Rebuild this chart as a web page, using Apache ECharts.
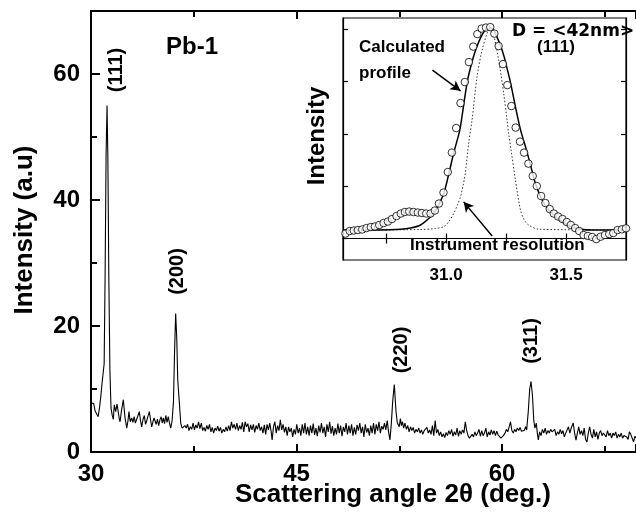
<!DOCTYPE html>
<html>
<head>
<meta charset="utf-8">
<script src="https://cdn.jsdelivr.net/npm/echarts@6/dist/echarts.min.js"></script>
<style>html,body{margin:0;padding:0;background:#fff}#c{width:636px;height:518px}</style>
</head>
<body>
<div id="c"></div>
<script>
// ---------- main XRD pattern ----------
const mainAngle = [30.00,30.10,30.20,30.30,30.40,30.52,30.62,30.72,30.80,30.88,30.96,31.03,31.10,31.17,31.23,31.30,31.38,31.46,31.55,31.63,31.70,31.80,31.90,31.99,32.07,32.12,32.22,32.36,32.48,32.61,32.70,32.77,32.86,32.97,33.06,33.15,33.24,33.34,33.43,33.53,33.61,33.70,33.80,33.89,33.98,34.07,34.16,34.26,34.34,34.43,34.52,34.60,34.67,34.76,34.85,34.94,35.03,35.12,35.20,35.28,35.37,35.46,35.55,35.64,35.73,35.82,35.92,36.02,36.10,36.18,36.26,36.33,36.38,36.45,36.55,36.65,36.75,36.85,36.95,37.05,37.15,37.25,37.35,37.45,37.55,37.65,37.75,37.85,37.95,38.05,38.15,38.25,38.35,38.45,38.55,38.65,38.75,38.85,38.95,39.05,39.15,39.25,39.35,39.45,39.55,39.65,39.75,39.85,39.95,40.05,40.15,40.25,40.35,40.45,40.55,40.65,40.75,40.85,40.95,41.05,41.15,41.25,41.35,41.45,41.55,41.65,41.75,41.85,41.95,42.05,42.15,42.25,42.35,42.45,42.55,42.65,42.75,42.85,42.95,43.05,43.15,43.22,43.32,43.42,43.52,43.62,43.72,43.82,43.92,44.02,44.12,44.22,44.32,44.42,44.52,44.62,44.72,44.82,44.92,45.02,45.12,45.22,45.32,45.42,45.52,45.62,45.72,45.82,45.92,46.02,46.12,46.22,46.32,46.42,46.52,46.62,46.72,46.82,46.92,47.02,47.12,47.22,47.32,47.42,47.52,47.62,47.72,47.82,47.92,48.02,48.12,48.22,48.32,48.42,48.52,48.62,48.72,48.82,48.92,49.02,49.12,49.22,49.32,49.42,49.52,49.62,49.72,49.82,49.92,50.02,50.12,50.22,50.32,50.42,50.52,50.62,50.72,50.82,50.92,51.02,51.12,51.22,51.32,51.42,51.52,51.62,51.72,51.82,51.92,52.02,52.14,52.26,52.36,52.43,52.50,52.58,52.66,52.74,52.82,52.92,53.02,53.12,53.22,53.32,53.42,53.52,53.62,53.72,53.82,53.92,54.02,54.12,54.22,54.32,54.42,54.52,54.62,54.72,54.82,54.92,55.02,55.12,55.22,55.32,55.42,55.52,55.62,55.72,55.82,55.92,56.02,56.12,56.22,56.32,56.42,56.52,56.62,56.72,56.82,56.92,57.02,57.12,57.22,57.32,57.42,57.52,57.62,57.72,57.82,57.92,58.02,58.12,58.22,58.32,58.42,58.52,58.62,58.72,58.82,58.92,59.02,59.12,59.22,59.32,59.42,59.52,59.62,59.72,59.82,59.92,60.00,60.10,60.22,60.32,60.42,60.52,60.62,60.72,60.82,60.92,61.02,61.12,61.22,61.32,61.42,61.52,61.62,61.72,61.80,61.92,62.02,62.12,62.22,62.32,62.40,62.50,62.58,62.65,62.75,62.85,62.95,63.05,63.15,63.25,63.35,63.45,63.55,63.65,63.75,63.85,63.95,64.05,64.15,64.25,64.35,64.45,64.55,64.65,64.75,64.85,64.95,65.05,65.20,65.30,65.40,65.50,65.60,65.70,65.80,65.90,66.00,66.10,66.20,66.30,66.40,66.50,66.60,66.70,66.80,66.90,67.00,67.10,67.20,67.30,67.40,67.50,67.60,67.70,67.80,67.90,68.00,68.10,68.20,68.30,68.40,68.50,68.60,68.70,68.80,68.90,69.00,69.10,69.20,69.30,69.40,69.50,69.60,69.70,69.80];
const mainIntensity = [7.8,7.5,7.7,6.5,6.1,5.6,7.0,8.9,10.8,10.6,14.0,28.0,47.0,55.0,47.0,28.0,13.0,7.0,5.8,5.2,7.5,6.4,7.6,7.8,5.2,4.8,6.5,8.3,5.5,3.8,5.0,6.4,4.8,5.4,4.7,5.6,4.6,4.8,5.8,6.4,5.0,4.0,5.2,5.8,4.4,5.0,5.7,6.4,5.2,4.0,4.8,5.4,5.6,4.4,5.2,4.2,5.1,5.6,4.6,5.4,4.5,5.8,4.7,5.6,4.6,3.8,5.0,8.0,16.0,22.0,18.0,11.5,9.9,7.8,4.6,3.8,3.5,4.2,3.8,4.4,3.4,4.0,3.6,4.6,3.5,4.3,3.8,4.8,3.7,4.6,3.4,3.9,3.3,4.2,3.6,4.4,3.2,3.9,3.0,3.8,3.4,4.1,3.3,3.9,3.0,3.6,3.2,4.0,3.3,4.2,3.4,4.8,3.8,4.4,3.6,4.6,3.4,4.2,3.6,4.7,3.2,4.8,4.0,4.5,3.2,4.3,3.5,4.4,3.1,4.2,3.6,4.6,3.4,4.0,3.0,4.3,2.8,4.4,3.5,4.6,3.2,1.9,4.0,4.8,3.0,4.2,3.4,5.1,3.5,4.4,3.1,4.0,2.6,4.0,3.2,3.8,2.4,3.6,2.8,4.4,3.0,3.8,2.6,4.4,3.0,4.6,2.8,4.0,2.6,4.2,3.0,4.5,2.7,3.8,2.5,4.2,3.1,4.6,3.0,4.0,2.4,4.4,3.2,4.8,2.9,4.1,2.6,3.8,2.8,4.5,3.0,4.2,2.5,4.0,3.2,4.6,2.8,4.2,3.0,4.4,2.6,3.9,2.8,4.3,3.4,4.6,3.0,4.0,2.4,4.4,3.1,3.8,2.6,4.2,3.0,4.6,2.8,4.4,3.4,4.8,3.0,4.1,3.6,4.6,3.5,5.0,3.2,1.9,4.5,8.0,10.7,6.5,4.6,4.8,4.0,5.3,4.2,4.8,3.8,4.6,3.6,4.2,3.2,4.0,3.4,3.9,3.0,3.6,3.2,3.8,3.0,3.5,2.8,3.4,3.1,3.9,3.0,3.5,2.8,4.2,2.6,5.0,3.0,3.6,2.6,3.2,2.4,2.9,2.3,3.1,2.6,3.4,2.8,3.6,2.5,3.2,2.7,3.8,2.5,3.4,2.8,3.5,3.0,4.8,3.4,2.6,2.2,1.9,2.8,2.4,3.2,2.6,3.0,3.6,2.5,3.4,2.6,3.0,3.8,2.4,3.2,2.7,3.5,2.8,3.4,2.6,3.3,2.7,3.0,2.2,1.9,2.6,3.0,3.6,3.2,4.0,4.8,3.4,3.0,3.6,3.2,3.8,3.4,3.9,3.3,3.6,3.4,4.0,3.5,6.5,10.0,11.2,9.0,5.0,3.8,4.6,3.0,1.9,3.2,2.6,3.6,3.0,3.8,2.8,3.4,3.0,3.6,3.2,3.0,3.6,2.6,3.2,2.8,3.6,2.9,3.4,2.4,3.0,3.2,4.0,3.0,3.8,4.6,3.0,1.9,3.0,4.0,2.8,3.4,2.6,3.8,2.0,1.6,3.0,4.0,2.8,2.2,3.6,2.4,3.2,2.0,3.0,3.4,2.6,3.0,3.2,2.4,3.4,2.6,3.0,2.2,3.0,2.6,3.2,2.2,2.8,2.4,3.0,2.2,2.6,2.8,2.4,2.0,3.2,2.8,2.2,1.6,2.5,2.2];

// ---------- inset: measured (111) profile ----------
const insetAngle = [30.580,30.598,30.615,30.632,30.650,30.668,30.686,30.703,30.721,30.739,30.757,30.774,30.793,30.811,30.828,30.846,30.864,30.882,30.899,30.917,30.935,30.953,30.970,30.989,31.007,31.024,31.042,31.060,31.078,31.095,31.113,31.130,31.148,31.166,31.184,31.201,31.219,31.237,31.255,31.272,31.290,31.308,31.325,31.343,31.361,31.378,31.396,31.414,31.432,31.449,31.467,31.485,31.503,31.520,31.538,31.555,31.573,31.591,31.609,31.626,31.644,31.662,31.680,31.697,31.715,31.733,31.750];
const insetMeasured = [0.095,0.143,0.153,0.162,0.172,0.200,0.219,0.229,0.258,0.296,0.324,0.372,0.429,0.477,0.506,0.515,0.506,0.496,0.487,0.477,0.477,0.534,0.668,0.878,1.269,1.641,2.109,2.586,2.987,3.368,3.664,3.903,4.008,4.027,4.036,3.912,3.674,3.330,2.929,2.529,2.118,1.850,1.640,1.430,1.193,1.002,0.811,0.677,0.563,0.477,0.420,0.372,0.315,0.258,0.200,0.143,0.067,0.048,0.029,-0.010,0.034,0.067,0.086,0.105,0.162,0.176,0.195];

// calculated profile (solid)
const fitAngle = [30.572,30.726,30.810,30.851,30.893,30.942,30.964,30.990,31.010,31.032,31.057,31.067,31.088,31.108,31.126,31.143,31.160,31.176,31.189,31.201,31.214,31.226,31.241,31.254,31.268,31.289,31.310,31.338,31.355,31.372,31.400,31.435,31.483,31.539,31.608,31.751];
const fitIntensity = [0.162,0.162,0.175,0.200,0.258,0.449,0.601,0.859,1.212,1.639,2.071,2.357,2.987,3.374,3.635,3.826,3.960,4.017,4.017,3.960,3.826,3.693,3.483,3.248,2.987,2.515,2.080,1.640,1.345,1.059,0.735,0.510,0.321,0.195,0.162,0.162];

// instrument resolution (dotted)
const resAngle = [30.572,30.893,30.955,30.990,31.010,31.032,31.047,31.060,31.072,31.080,31.094,31.108,31.129,31.150,31.171,31.182,31.198,31.219,31.240,31.254,31.261,31.272,31.289,31.310,31.326,31.344,31.386,31.751];
const resIntensity = [0.162,0.172,0.191,0.225,0.315,0.481,0.639,0.798,1.040,1.246,1.823,2.261,3.088,3.597,3.916,4.011,3.884,3.406,2.771,2.261,1.994,1.650,1.116,0.544,0.353,0.258,0.177,0.162];

// ticks / labels
const mainXLabels = [30, 45, 60];
const mainYLabels = [0, 20, 40, 60];
const insetXTicks = [30.75, 31.0, 31.25, 31.5];
const insetXLabels = [31.0, 31.5];
const insetYTicks = [0, 1, 2, 3, 4];
const peakLabels = ['(111)', '(200)', '(220)', '(311)'];

const zip = (a, b) => a.map((v, i) => [v, b[i]]);
const FONT = 'Liberation Sans, Arial, Helvetica, sans-serif';

const chart = echarts.init(document.getElementById('c'), null, {renderer: 'canvas'});

const mainAxisLine = {lineStyle: {color: '#000', width: 2}};
const insetAxisLine = {lineStyle: {color: '#000', width: 1.2}};

const option = {
  animation: false,
  backgroundColor: '#fff',
  grid: [
    {left: 91, top: 11, width: 545, height: 441, show: false, outerBoundsMode: 'none'},
    {left: 343, top: 18, width: 283, height: 242, show: true, backgroundColor: '#fff', borderColor: '#000', borderWidth: 1.2, z: 5, outerBoundsMode: 'none'}
  ],
  xAxis: [
    {type: 'value', gridIndex: 0, min: 30, max: 69.78, interval: 15, position: 'bottom',
      axisLine: mainAxisLine, splitLine: {show: false},
      axisTick: {inside: true, length: 8, lineStyle: {width: 2, color: '#000'}},
      minorTick: {show: true, splitNumber: 2, length: 6, lineStyle: {width: 2, color: '#000'}},
      axisLabel: {color: '#000', fontSize: 24, fontWeight: 'bold', fontFamily: FONT, margin: 10,
        formatter: v => mainXLabels.includes(v) ? String(v) : ''}},
    {type: 'value', gridIndex: 0, min: 30, max: 69.78, interval: 15, position: 'top',
      axisLine: mainAxisLine, splitLine: {show: false},
      axisTick: {inside: true, length: 8, lineStyle: {width: 2, color: '#000'}},
      minorTick: {show: true, splitNumber: 2, length: 6, lineStyle: {width: 2, color: '#000'}},
      axisLabel: {show: false}},
    {type: 'value', gridIndex: 1, min: 30.57, max: 31.75, position: 'bottom', z: 6,
      axisLine: insetAxisLine, splitLine: {show: false},
      axisTick: {inside: true, length: 5, customValues: insetXTicks, lineStyle: {width: 1.2, color: '#000'}},
      axisLabel: {customValues: insetXLabels, color: '#000', fontSize: 17, fontWeight: 'bold', fontFamily: FONT, margin: 7,
        formatter: v => Number(v).toFixed(1)}},
    {type: 'value', gridIndex: 1, min: 30.57, max: 31.75, position: 'top', z: 6,
      axisLine: insetAxisLine, splitLine: {show: false},
      axisTick: {inside: true, length: 5, customValues: insetXTicks, lineStyle: {width: 1.2, color: '#000'}},
      axisLabel: {show: false}}
  ],
  yAxis: [
    {type: 'value', gridIndex: 0, min: 0, max: 70, interval: 20,
      axisLine: mainAxisLine, splitLine: {show: false},
      axisTick: {inside: true, length: 9, lineStyle: {width: 2, color: '#000'}},
      minorTick: {show: true, splitNumber: 2, length: 6, lineStyle: {width: 2, color: '#000'}},
      axisLabel: {color: '#000', fontSize: 24, fontWeight: 'bold', fontFamily: FONT, margin: 11,
        formatter: v => mainYLabels.includes(v) ? String(v) : ''}},
    {type: 'value', gridIndex: 1, min: -0.41, max: 4.21, position: 'left', z: 6,
      axisLine: insetAxisLine, splitLine: {show: false},
      axisTick: {inside: true, length: 5, customValues: insetYTicks, lineStyle: {width: 1.2, color: '#000'}},
      axisLabel: {show: false}},
    {type: 'value', gridIndex: 1, min: -0.41, max: 4.21, position: 'right', z: 6,
      axisLine: insetAxisLine, splitLine: {show: false},
      axisTick: {inside: true, length: 5, customValues: insetYTicks, lineStyle: {width: 1.2, color: '#000'}},
      axisLabel: {show: false}}
  ],
  series: [
    {type: 'line', xAxisIndex: 0, yAxisIndex: 0, data: zip(mainAngle, mainIntensity),
      showSymbol: false, lineStyle: {color: '#000', width: 1.1}, silent: true},
    {type: 'line', xAxisIndex: 2, yAxisIndex: 1, data: zip(resAngle, resIntensity), z: 7,
      showSymbol: false, smooth: 0.3, lineStyle: {color: '#333', width: 1, type: [1.5, 2]}, silent: true},
    {type: 'line', xAxisIndex: 2, yAxisIndex: 1, data: zip(fitAngle, fitIntensity), z: 8,
      showSymbol: false, smooth: 0.3, lineStyle: {color: '#000', width: 1.5}, silent: true,
      markLine: {silent: true, symbol: ['none', 'arrow'], symbolSize: [8, 10],
        label: {show: false}, lineStyle: {color: '#000', width: 1.5, type: 'solid'},
        data: [
          [{coord: [30.943, 3.216]}, {coord: [31.060, 2.82]}],
          [{coord: [31.192, 0.048]}, {coord: [31.073, 0.70]}]
        ]}},
    {type: 'scatter', xAxisIndex: 2, yAxisIndex: 1, data: zip(insetAngle, insetMeasured), z: 9,
      symbol: 'circle', symbolSize: 7.5,
      itemStyle: {color: '#fff', borderColor: '#000', borderWidth: 1}, silent: true}
  ],
  graphic: [
    {type: 'text', left: 166, top: 35, z: 20, style: {text: 'Pb-1', font: 'bold 24px ' + FONT, fill: '#000'}},
    {type: 'text', x: 116.5, y: 70, rotation: Math.PI / 2, z: 20, style: {text: peakLabels[0], font: 'bold 20px ' + FONT, fill: '#000', align: 'center', verticalAlign: 'middle'}},
    {type: 'text', x: 177.5, y: 271.5, rotation: Math.PI / 2, z: 20, style: {text: peakLabels[1], font: 'bold 20px ' + FONT, fill: '#000', align: 'center', verticalAlign: 'middle'}},
    {type: 'text', x: 401.5, y: 350, rotation: Math.PI / 2, z: 20, style: {text: peakLabels[2], font: 'bold 20px ' + FONT, fill: '#000', align: 'center', verticalAlign: 'middle'}},
    {type: 'text', x: 531, y: 341, rotation: Math.PI / 2, z: 20, style: {text: peakLabels[3], font: 'bold 20px ' + FONT, fill: '#000', align: 'center', verticalAlign: 'middle'}},
    {type: 'text', x: 25, y: 230, rotation: Math.PI / 2, z: 20, style: {text: 'Intensity (a.u)', font: 'bold 26px ' + FONT, fill: '#000', align: 'center', verticalAlign: 'middle'}},
    {type: 'text', x: 393, y: 495, z: 20, style: {text: 'Scattering angle 2θ (deg.)', font: 'bold 26px ' + FONT, fill: '#000', align: 'center', verticalAlign: 'middle'}},
    {type: 'text', x: 317, y: 136, rotation: Math.PI / 2, z: 20, style: {text: 'Intensity', font: 'bold 24px ' + FONT, fill: '#000', align: 'center', verticalAlign: 'middle'}},
    {type: 'text', x: 359, y: 47.5, z: 20, style: {text: 'Calculated', font: 'bold 17px ' + FONT, fill: '#000', align: 'left', verticalAlign: 'middle'}},
    {type: 'text', x: 359, y: 73, z: 20, style: {text: 'profile', font: 'bold 17px ' + FONT, fill: '#000', align: 'left', verticalAlign: 'middle'}},
    {type: 'text', x: 512, y: 31.5, z: 20, style: {text: 'D = <42nm>', font: 'bold 17px DejaVu Sans, sans-serif', fill: '#000', align: 'left', verticalAlign: 'middle'}},
    {type: 'text', x: 556, y: 47.5, z: 20, style: {text: '(111)', font: 'bold 17px ' + FONT, fill: '#000', align: 'center', verticalAlign: 'middle'}},
    {type: 'text', x: 410, y: 245, z: 20, style: {text: 'Instrument resolution', font: 'bold 17px ' + FONT, fill: '#000', align: 'left', verticalAlign: 'middle'}}
  ]
};
chart.setOption(option);
</script>
</body>
</html>
